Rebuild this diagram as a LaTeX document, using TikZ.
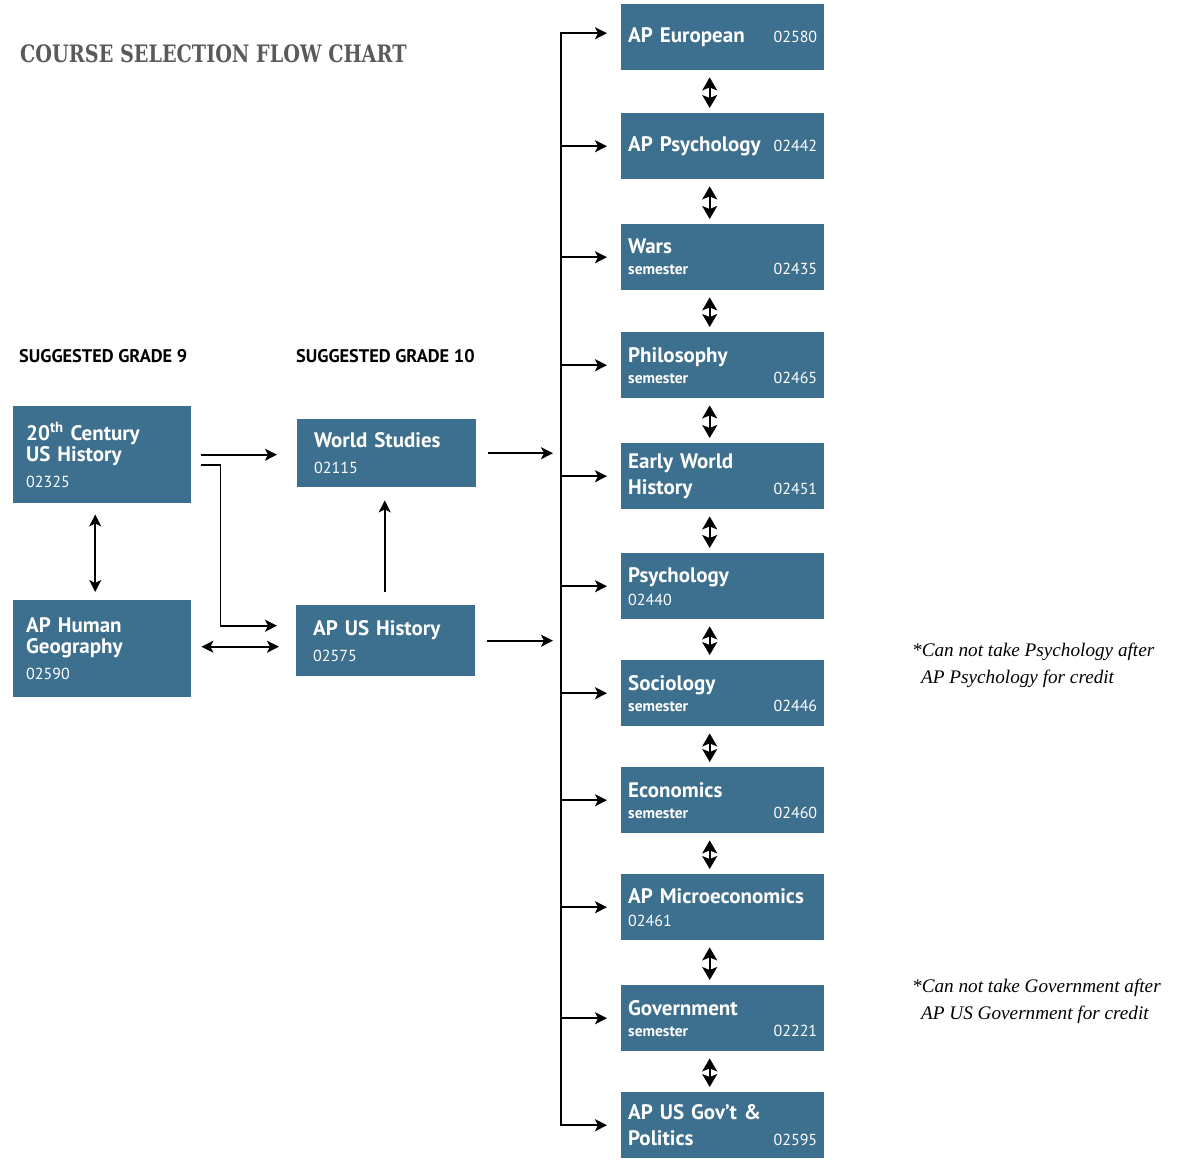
\documentclass[tikz,border=0pt]{standalone}
\usepackage{fontspec}
\setmainfont{PT Sans}
\setsansfont{PT Sans}
\newfontfamily\slabfont[FakeStretch=0.8]{DejaVu Serif}
\newfontfamily\notefont{Liberation Serif}
\usetikzlibrary{arrows.meta}
\definecolor{boxblue}{RGB}{61,111,143}
\definecolor{titlegray}{RGB}{90,90,90}
\newcommand\crsrow[2]{\hbox to\hsize{#1\hfill#2}}
\newcommand\code{\fontsize{16}{19}\selectfont\mdseries}
\newcommand\sem{\fontsize{15.5}{18}\selectfont\bfseries semester}
\tikzset{
    course/.style={fill=boxblue, text=white, anchor=north west, inner xsep=7pt, inner ysep=0pt,
        align=left, font=\fontsize{21}{26}\selectfont\bfseries, minimum height=66pt, text width=189pt},
    leftcourse/.style={course, inner xsep=13pt, text width=152pt, minimum height=97pt},
    midcourse/.style={course, inner xsep=17pt, text width=145pt},
    grade/.style={anchor=base west, inner sep=0pt, font=\fontsize{18.3}{21}\selectfont\bfseries},
    note/.style={anchor=north west, inner sep=0pt, align=left, font=\notefont\itshape\fontsize{19.2}{27}\selectfont},
    arr/.style={-{Stealth[length=12pt,width=12pt,inset=3pt]}, line width=1.6pt},
    twoway/.style={{Stealth[length=12pt,width=12pt,inset=3pt]}-{Stealth[length=12pt,width=12pt,inset=3pt]}, line width=1.6pt},
    pairarr/.style={{Stealth[length=13pt,width=15pt,inset=3pt]}-{Stealth[length=13pt,width=15pt,inset=3pt]}, line width=1.6pt}
}
\begin{document}
\begin{tikzpicture}[x=1pt, y=-1pt]
    \useasboundingbox (0,0) rectangle (1177,1163);
    % headings
    \node[anchor=base west, inner sep=0pt, text=titlegray, font=\slabfont\bfseries\fontsize{24}{28}\selectfont]
        (title) at (20,62) {COURSE SELECTION FLOW CHART};
    \node[grade] (g9) at (19,362) {SUGGESTED GRADE 9};
    \node[grade] (g10) at (296,362) {SUGGESTED GRADE 10};
    % grade 9 and 10
    \node[leftcourse] (c20) at (13,406) {20\textsuperscript{th} Century\\[-5pt]US History\\{\code 02325}};
    \node[leftcourse] (aphg) at (13,600) {AP Human\\[-5pt]Geography\\{\code 02590}};
    \node[midcourse, minimum height=68pt] (ws) at (297,419) {World Studies\\{\code 02115}};
    \node[midcourse, minimum height=71pt] (apush) at (296,605) {AP US History\\{\code 02575}};
    % electives
    \node[course] (euro) at (621,4) {\crsrow{AP European}{\code 02580}};
    \node[course] (appsy) at (621,113) {\crsrow{AP Psychology}{\code 02442}};
    \node[course] (wars) at (621,224) {Wars\\[-5pt]\crsrow{\sem}{\code 02435}};
    \node[course] (phil) at (621,332) {Philosophy\\[-5pt]\crsrow{\sem}{\code 02465}};
    \node[course] (ewh) at (621,443) {Early World\\\crsrow{History}{\code 02451}};
    \node[course] (psy) at (621,553) {Psychology\\[-3pt]{\code 02440}};
    \node[course] (soc) at (621,660) {Sociology\\[-5pt]\crsrow{\sem}{\code 02446}};
    \node[course] (econ) at (621,767) {Economics\\[-5pt]\crsrow{\sem}{\code 02460}};
    \node[course] (micro) at (621,874) {AP Microeconomics\\[-3pt]{\code 02461}};
    \node[course] (gov) at (621,985) {Government\\[-5pt]\crsrow{\sem}{\code 02221}};
    \node[course] (apgov) at (621,1092) {AP US Gov't \&\\\crsrow{Politics}{\code 02595}};
    % notes
    \node[note] (npsy) at (912,643) {*Can not take Psychology after\\\hspace*{9pt}AP Psychology for credit};
    \node[note] (ngov) at (912,979) {*Can not take Government after\\\hspace*{9pt}AP US Government for credit};
    % left arrows
    \draw[arr] ([xshift=10pt]c20.east) -- ([xshift=-20pt]ws.west |- c20.east);
    \draw[arr] ([xshift=10pt,yshift=-10pt]c20.east) -- ++(19,0) |- ([xshift=-19pt,yshift=15pt]apush.west);
    \draw[twoway] ([xshift=10pt,yshift=2pt]aphg.east) -- ([xshift=-17pt,yshift=2pt]apush.west |- aphg.east);
    \draw[twoway] ([xshift=-7pt,yshift=-11pt]c20.south) -- ([xshift=-7pt,yshift=8pt]aphg.north);
    \draw[arr] ([xshift=-1pt,yshift=13pt]apush.north) -- ([xshift=-1pt,yshift=-13pt]ws.south -| apush.north);
    % trunk
    \coordinate (tr) at (561,0);
    \draw[line width=1.6pt, line cap=rect] ([yshift=4pt]tr |- euro.west) -- (tr |- apgov.west);
    \draw[arr] ([xshift=12pt]ws.east) -- ([xshift=-8pt]tr |- ws.east);
    \draw[arr] ([xshift=12pt]apush.east) -- ([xshift=-8pt]tr |- apush.east);
    \draw[arr] ([yshift=4pt]tr |- euro.west) -- ([xshift=-14pt,yshift=4pt]euro.west);
    \foreach \b in {appsy,wars,phil,ewh,psy,soc,econ,micro,gov,apgov}
        \draw[arr] (tr |- \b.west) -- ([xshift=-14pt]\b.west);
    \foreach \a/\b in {euro/appsy,appsy/wars,wars/phil,phil/ewh,ewh/psy,psy/soc,soc/econ,econ/micro,micro/gov,gov/apgov}
        \draw[pairarr] ([xshift=-13pt,yshift=-7pt]\a.south) -- ([xshift=-13pt,yshift=5pt]\b.north);
\end{tikzpicture}
\end{document}
